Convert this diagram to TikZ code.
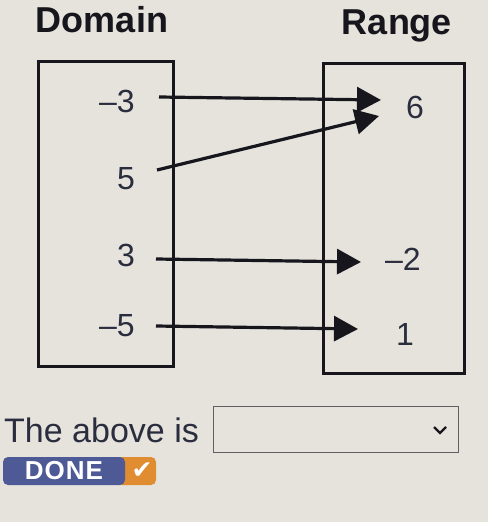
\documentclass[tikz,border=0pt]{standalone}
\usepackage{fontspec}
\setmainfont{Liberation Sans}
\newfontfamily\symfont{DejaVu Sans}
\usetikzlibrary{arrows.meta}
\definecolor{bg}{RGB}{229,227,220}
\definecolor{ink}{RGB}{22,22,28}
\definecolor{txt}{RGB}{42,45,62}
\definecolor{doneblue}{RGB}{78,90,150}
\definecolor{doneorange}{RGB}{224,140,48}
\definecolor{ddgray}{RGB}{95,95,100}
\tikzset{
  title/.style={font=\fontsize{36}{36}\selectfont\bfseries, text=ink, inner sep=0pt},
  val/.style={font=\fontsize{32}{32}\selectfont, text=txt, inner sep=0pt},
  setbox/.style={draw=ink, line width=3pt, inner sep=0pt, anchor=north west},
  arr/.style={draw=ink, line width=3.2pt, -{Triangle[length=24pt,width=25pt]}},
  qtext/.style={font=\fontsize{34}{34}\selectfont, text=txt, inner sep=0pt, anchor=west},
}
\begin{document}
\begin{tikzpicture}[x=1pt,y=-1pt]
\fill[bg] (0,0) rectangle (488,522);
\useasboundingbox (0,0) rectangle (488,522);
% titles
\node[title] (dom) at (102,20) {Domain};
\node[title] (ran) at (397,26) {Range};
% boxes
\node[setbox, minimum width=135pt, minimum height=305pt] (dbox) at (37,60) {};
\node[setbox, minimum width=141pt, minimum height=310pt] (rbox) at (322,62) {};
% domain values
\node[val] (d1) at (117,101) {–3};
\node[val] (d2) at (126,179) {5};
\node[val] (d3) at (126,255) {3};
\node[val] (d4) at (117,326) {–5};
% range values
\node[val] (r1) at (415,107) {6};
\node[val] (r2) at (403,259) {–2};
\node[val] (r3) at (405,334) {1};
% arrow ends
\coordinate (s1) at (159,97);  \coordinate (t1) at (381,100);
\coordinate (s2) at (157,170); \coordinate (t2) at (379,116);
\coordinate (s3) at (156,259); \coordinate (t3) at (361,262);
\coordinate (s4) at (156,326); \coordinate (t4) at (358,329);
\draw[arr] (s1) -- (t1);
\draw[arr] (s2) -- (t2);
\draw[arr] (s3) -- (t3);
\draw[arr] (s4) -- (t4);
% question
\node[qtext] (q) at (4,430) {The above is};
\node[draw=ddgray, line width=1.2pt, anchor=north west, minimum width=245pt, minimum height=46pt, inner sep=0pt] (dd) at (213,406) {};
\draw[ink, line width=2.2pt] (434,427) -- (440,433) -- (446,427);
% DONE button
\node[fill=doneorange, rounded corners=5pt, minimum width=40pt, minimum height=28pt, inner sep=0pt, text=white, font=\symfont\fontsize{25}{25}\selectfont\bfseries] (chk) at (136,471) {\hspace{12pt}✔};
\node[fill=doneblue, rounded corners=5pt, minimum width=122pt, minimum height=28pt, inner sep=0pt, text=white, font=\fontsize{26}{26}\selectfont\bfseries] (done) at (64,471) {D\kern1ptO\kern1ptN\kern1ptE};
\end{tikzpicture}
\end{document}
